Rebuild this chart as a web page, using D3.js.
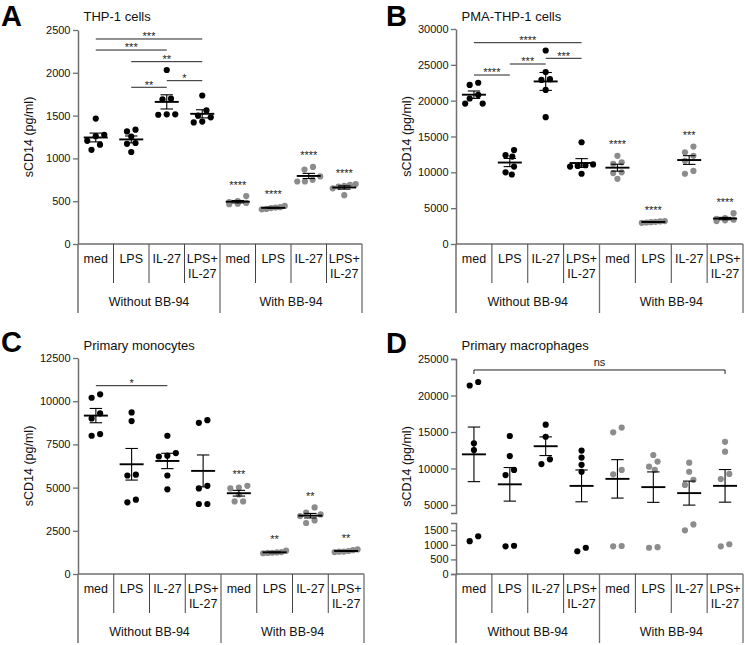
<!DOCTYPE html>
<html><head><meta charset="utf-8">
<script src="https://cdn.jsdelivr.net/npm/d3@7"></script>
<style>body{margin:0;background:#fff}svg{display:block}</style>
</head><body><svg id="chart" width="745" height="645"></svg>
<script>
// ---------------- DATA ----------------
const categoryLines = [["med"],["LPS"],["IL-27"],["LPS+","IL-27"],["med"],["LPS"],["IL-27"],["LPS+","IL-27"]];
const groupLabels = ["Without BB-94","With BB-94"];
const yLabel = "sCD14 (pg/ml)";
const panelLetters = ["A","B","C","D"];
const panelTitles = ["THP-1 cells","PMA-THP-1 cells","Primary monocytes","Primary macrophages"];

const thp1Ticks = [0,500,1000,1500,2000,2500];
const thp1Values = [
  [1465,1275,1260,1205,1160,1100],
  [1335,1315,1255,1180,1170,1075],
  [2033,1698,1690,1515,1510,1515],
  [1735,1560,1500,1480,1430,1420],
  [560,500,490,480,470,465],
  [445,430,425,420,410,405],
  [900,870,790,750,730,730],
  [700,690,680,670,650,570]
];
const thp1Stars = ["","","","","****","****","****","****"];
const thp1Brackets = [[0,3,2395,"***"],[0,2,2266,"***"],[1,3,2130,"**"],[1,2,1831,"**"],[2,3,1908,"*"]];

const pmaTicks = [0,5000,10000,15000,20000,25000,30000];
const pmaValues = [
  [22500,22200,20800,20300,19600,19600],
  [13100,12400,12200,10800,10000,9700],
  [27000,24000,23000,22900,21500,17700],
  [14200,11100,11000,10900,10800,9800],
  [12300,11400,11200,10000,9900,9100],
  [3200,3150,3100,3050,3000,2950],
  [13600,12800,12300,11600,10200,9800],
  [4300,3600,3500,3400,3300,3200]
];
const pmaStars = ["","","","","****","****","***","****"];
const pmaBrackets = [[0,3,28088,"****"],[0,1,23581,"****"],[1,2,25116,"***"],[2,3,25912,"***"]];

const monoTicks = [0,2500,5000,7500,10000,12500];
const monoValues = [
  [10400,10200,9300,9000,8100,8000],
  [9350,8850,5750,5700,4300,4150],
  [8000,7000,6850,6800,5700,4900],
  [8900,8750,5100,4950,4050,4050],
  [5100,5000,4950,4600,4200,4200],
  [1350,1270,1250,1230,1220,1200],
  [3850,3550,3450,3350,3100,2950],
  [1420,1380,1330,1300,1290,1270]
];
const monoStars = ["","","","","***","**","**","**"];
const monoBrackets = [[0,2,10897,"*"]];

const macroTicksUpper = [5000,10000,15000,20000,25000];
const macroTicksLower = [0,500,1000,1500];
const macroValues = [
  [21850,21370,13450,12530,1125,1296],
  [14450,11700,9800,9100,950,970],
  [16000,14350,11250,10600],
  [12450,11500,10500,9550,780,900],
  [15600,14950,9800,9200,950,960],
  [11850,10950,10250,9800,900,920],
  [10800,9550,8450,7750,1500,1700],
  [13650,12300,9250,8550,950,1020]
];
const macroStars = ["","","","","","","",""];
const macroBrackets = [[0,7,23493,"ns"]];

// ---------------- STYLE / LAYOUT ----------------
const FONT = "'Liberation Sans', Arial, Helvetica, sans-serif";
const AXIS_COL = "#6f6f6f", DIV_COL = "#444", TXT = "#111";
const DOT_BLACK = "#000", DOT_GRAY = "#8c8c8c";
const R = 3.1, SP = 8.5, COL = 6.6, ROW_T = 6, MAXW = 11.5;

const svg = d3.select("#chart");

function swarm(vals, yf, cx) {
  const pts = vals.map(v => ({v, y: yf(v)})).sort((a,b) => a.y - b.y);
  const rows = [];
  pts.forEach(p => {
    const last = rows[rows.length-1];
    if (last && p.y - last[0].y < ROW_T) last.push(p); else rows.push([p]);
  });
  const placed = [];
  rows.forEach(row => {
    const n = row.length;
    const sp = n > 1 ? Math.min(SP, 2*MAXW/(n-1)) : 0;
    const base = row.map((p,k) => ((n-1)/2 - k)*sp);
    let chosen = null;
    for (let e = 0; e <= 24 && !chosen; e += 0.5) {
      const cands = [base.map(o => o + Math.sign(o)*e)];
      if (e > 0) { cands.push(base.map(o => o + e)); cands.push(base.map(o => o - e)); }
      for (const c of cands) {
        if (c.some(o => Math.abs(o) > MAXW + 0.01)) continue;
        const ok = row.every((p,k) => placed.every(q => Math.hypot(q.dx - c[k], q.y - p.y) >= COL));
        if (ok) { chosen = c; break; }
      }
    }
    if (!chosen) chosen = base;
    row.forEach((p,k) => { p.dx = chosen[k]; placed.push(p); });
  });
  return placed.map(p => ({v: p.v, x: cx + p.dx, y: p.y}));
}

function styleAxis(g) {
  g.select(".domain").attr("stroke", AXIS_COL).attr("stroke-width", 1.5);
  g.selectAll(".tick line").attr("stroke", AXIS_COL).attr("stroke-width", 1.3);
  g.selectAll(".tick text").attr("font-family", FONT).attr("font-size", 11).attr("fill", TXT);
}

function drawPanel(cfg) {
  const g = svg.append("g");
  const x = d3.scaleBand().domain(d3.range(8)).range([cfg.x0, cfg.x1]);
  const cx = i => x(i) + x.bandwidth()/2;
  const yBase = cfg.yBase;

  g.append("text").attr("x", cfg.letterX).attr("y", cfg.letterY).text(cfg.letter)
    .attr("font-family", FONT).attr("font-weight", "bold").attr("font-size", 29).attr("fill", "#000");
  g.append("text").attr("x", cfg.x0 + 5.5).attr("y", cfg.titleY).text(cfg.title)
    .attr("font-family", FONT).attr("font-size", 13).attr("fill", TXT);

  cfg.axes.forEach(a => {
    const ax = g.append("g").attr("transform", `translate(${cfg.x0},0)`)
      .call(d3.axisLeft(a.scale).tickValues(a.ticks).tickSize(5).tickSizeOuter(a.outer).tickPadding(2.5).tickFormat(d3.format("d")));
    styleAxis(ax);
  });
  const yMid = (cfg.yTop + yBase)/2;
  g.append("text").attr("transform", `translate(${cfg.x0 - 45},${yMid}) rotate(-90)`)
    .attr("text-anchor", "middle").text(yLabel)
    .attr("font-family", FONT).attr("font-size", 12.5).attr("fill", TXT);

  const tblBottom = yBase + 69;
  g.append("line").attr("x1", cfg.x0).attr("x2", cfg.x1).attr("y1", yBase).attr("y2", yBase)
    .attr("stroke", AXIS_COL).attr("stroke-width", 1.5);
  g.append("line").attr("x1", cfg.x0).attr("x2", cfg.x0).attr("y1", yBase).attr("y2", tblBottom)
    .attr("stroke", AXIS_COL).attr("stroke-width", 1.5);
  d3.range(1, 9).forEach(i => {
    const xx = i === 8 ? cfg.x1 : x(i);
    const full = (i === 4 || i === 8);
    g.append("line").attr("x1", xx).attr("x2", xx).attr("y1", yBase).attr("y2", full ? tblBottom : yBase + 39)
      .attr("stroke", full ? AXIS_COL : DIV_COL).attr("stroke-width", full ? 1.3 : 1);
  });
  categoryLines.forEach((lines, i) => {
    lines.forEach((t, j) => {
      g.append("text").attr("x", cx(i)).attr("y", yBase + 18.7 + j*15.6).attr("text-anchor", "middle").text(t)
        .attr("font-family", FONT).attr("font-size", 12.5).attr("fill", TXT);
    });
  });
  groupLabels.forEach((t, k) => {
    g.append("text").attr("x", (cx(k*4+1) + cx(k*4+2))/2).attr("y", yBase + 62).attr("text-anchor", "middle").text(t)
      .attr("font-family", FONT).attr("font-size", 12.5).attr("fill", TXT);
  });

  cfg.values.forEach((vals, i) => {
    const pts = swarm(vals, cfg.yf, cx(i));
    g.selectAll(null).data(pts).enter().append("circle")
      .attr("cx", d => d.x).attr("cy", d => d.y).attr("r", R)
      .attr("fill", i < 4 ? DOT_BLACK : DOT_GRAY);
    const m = d3.mean(vals), sem = d3.deviation(vals)/Math.sqrt(vals.length);
    const ym = cfg.yf(m), yt = cfg.yf(m + sem), yb = cfg.yf(m - sem);
    const c = cx(i);
    g.append("line").attr("x1", c).attr("x2", c).attr("y1", yt).attr("y2", yb).attr("stroke", "#000").attr("stroke-width", 1.1);
    [yt, yb].forEach(yy => g.append("line").attr("x1", c-6.2).attr("x2", c+6.2).attr("y1", yy).attr("y2", yy).attr("stroke", "#000").attr("stroke-width", 1.1));
    g.append("line").attr("x1", c-12).attr("x2", c+12).attr("y1", ym).attr("y2", ym).attr("stroke", "#000").attr("stroke-width", 1.9);
    const s = cfg.stars[i];
    if (s) {
      const top = d3.min(pts, d => d.y);
      g.append("text").attr("x", c).attr("y", top - 7.5).attr("text-anchor", "middle").text(s)
        .attr("font-family", FONT).attr("font-size", 11).attr("fill", "#222");
    }
  });

  cfg.brackets.forEach(([a, b, lvl, lab]) => {
    const yy = cfg.yf(lvl), xa = cx(a), xb = cx(b);
    if (lab === "ns") {
      g.append("path").attr("d", `M${xa},${yy+4}V${yy}H${xb}V${yy+4}`).attr("fill", "none").attr("stroke", "#222").attr("stroke-width", 1);
      g.append("text").attr("x", (xa+xb)/2).attr("y", yy - 4).attr("text-anchor", "middle").text(lab)
        .attr("font-family", FONT).attr("font-size", 11).attr("fill", "#222");
    } else {
      g.append("line").attr("x1", xa).attr("x2", xb).attr("y1", yy).attr("y2", yy).attr("stroke", "#222").attr("stroke-width", 1);
      g.append("text").attr("x", (xa+xb)/2).attr("y", yy + 1.3).attr("text-anchor", "middle").text(lab)
        .attr("font-family", FONT).attr("font-size", 11).attr("fill", "#222");
    }
  });
}

const yA = d3.scaleLinear().domain([0, 2500]).range([244, 30]);
drawPanel({letter: panelLetters[0], title: panelTitles[0], letterX: 1, letterY: 25.5, titleY: 21,
  x0: 78, x1: 362, yTop: 30, yBase: 244, yf: yA,
  axes: [{scale: yA, ticks: thp1Ticks, outer: 0}],
  values: thp1Values, stars: thp1Stars, brackets: thp1Brackets});

const yB = d3.scaleLinear().domain([0, 30000]).range([244, 29]);
drawPanel({letter: panelLetters[1], title: panelTitles[1], letterX: 386, letterY: 25.5, titleY: 20.7,
  x0: 456, x1: 743, yTop: 29, yBase: 244, yf: yB,
  axes: [{scale: yB, ticks: pmaTicks, outer: 0}],
  values: pmaValues, stars: pmaStars, brackets: pmaBrackets});

const yC = d3.scaleLinear().domain([0, 12500]).range([574, 358]);
drawPanel({letter: panelLetters[2], title: panelTitles[2], letterX: 1, letterY: 352, titleY: 349.5,
  x0: 78, x1: 364, yTop: 358, yBase: 574, yf: yC,
  axes: [{scale: yC, ticks: monoTicks, outer: 0}],
  values: monoValues, stars: monoStars, brackets: monoBrackets});

const yDU = d3.scaleLinear().domain([3900, 25000]).range([513, 359]);
const yDL = d3.scaleLinear().domain([0, 1750]).range([574, 523]);
const yD = v => v >= 3000 ? yDU(v) : yDL(v);
drawPanel({letter: panelLetters[3], title: panelTitles[3], letterX: 386, letterY: 353, titleY: 350,
  x0: 456, x1: 743, yTop: 359, yBase: 574, yf: yD,
  axes: [{scale: yDU, ticks: macroTicksUpper, outer: 5}, {scale: yDL, ticks: macroTicksLower, outer: 5}],
  values: macroValues, stars: macroStars, brackets: macroBrackets});
</script>
</body></html>
